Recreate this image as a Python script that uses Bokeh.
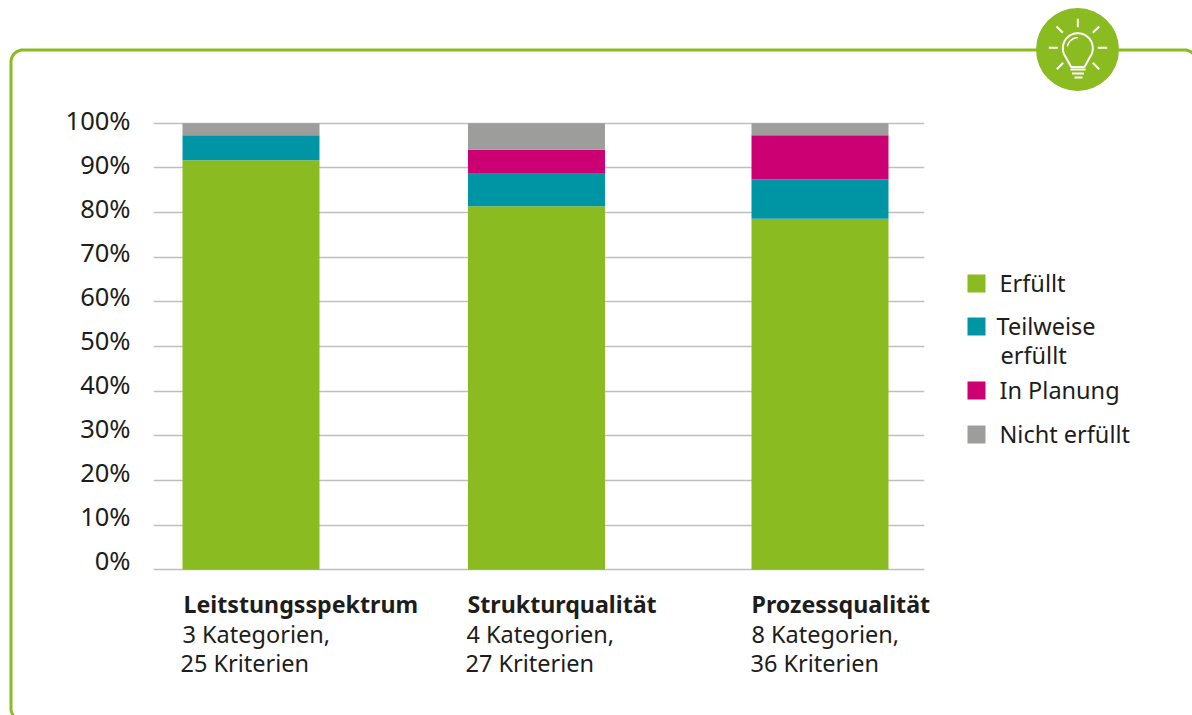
import numpy as np
from bokeh.core.properties import value
from bokeh.embed import file_html
from bokeh.resources import INLINE
from bokeh.plotting import figure
from bokeh.models import ColumnDataSource, Range1d, LinearAxis, Grid, FixedTicker, Pane

# ---------- data ----------
categories = ["Leitstungsspektrum", "Strukturqualität", "Prozessqualität"]
details_1 = ["3 Kategorien,", "4 Kategorien,", "8 Kategorien,"]
details_2 = ["25 Kriterien", "27 Kriterien", "36 Kriterien"]
series_names = ["Erfüllt", "Teilweise erfüllt", "In Planung", "Nicht erfüllt"]
erfuellt = [91.7, 81.4, 78.6]
teilweise = [5.6, 7.3, 8.8]
in_planung = [0.0, 5.4, 9.9]
nicht_erfuellt = [2.7, 5.9, 2.7]
tick_values = [0, 10, 20, 30, 40, 50, 60, 70, 80, 90, 100]
tick_labels = {v: f"{v}%" for v in tick_values}

GREEN, TEAL, PINK, GREY = "#8abb21", "#0095a5", "#cc0072", "#9d9d9c"
INK = "#1d1d1b"
FONT = "Noto Sans"
W, H = 1192, 715
FT, FB, FL, FR = 115, 575, 153, 924   # frame edges in page px

# ---------- backdrop figure: page pixels, carries frame, badge, captions, legend ----------
bg = figure(width=W, height=H, output_backend="svg", toolbar_location=None,
            x_axis_location=None, y_axis_location=None, min_border=0,
            x_range=Range1d(0, W), y_range=Range1d(H, 0))
bg.outline_line_color = None
bg.xgrid.visible = False
bg.ygrid.visible = False


def text(s, x, y, bold=False):
    bg.text(x=[x], y=[y], text=[s], text_font=value(FONT),
            text_font_size="23.2px" if bold else "23.5px", text_color=INK,
            text_font_style="bold" if bold else "normal",
            text_baseline="alphabetic", text_align="left")


for name, d1, d2, x0, x1, x2 in zip(categories, details_1, details_2,
                                    [183, 467, 751], [182, 466, 751], [180, 465, 750]):
    text(name, x0, 603.7, True)
    text(d1, x1, 633.7)
    text(d2, x2, 662)

for col, top in zip([GREEN, TEAL, PINK, GREY], [274, 317, 381, 425]):
    bg.quad(left=[967], right=[985], top=[top], bottom=[top + 18], fill_color=col, line_color=None)
text("Erfüllt", 999, 282.7)
text("Teilweise", 996, 325)
text("erfüllt", 1000, 354)
text("In Planung", 999, 389)
text("Nicht erfüllt", 999, 433.7)

# frame line with rounded corners, running off the page
r = 12
t = np.linspace(0, np.pi / 2, 14)
fx = list(22.5 - r * np.sin(t)) + list(22.5 - r * np.cos(t)) + list(1184 + r * np.sin(t))
fy = list(708 + r * np.cos(t)) + list(61.5 - r * np.sin(t)) + list(61.5 - r * np.cos(t))
bg.line(fx, fy, line_color=GREEN, line_width=3)

# lightbulb badge
bg.circle(x=[1077], y=[49], radius=41.5, fill_color=GREEN, line_color=None)
seg = [(1077.3, 18.3, 1077.3, 26.7), (1092.3, 32.3, 1098.7, 26), (1062.3, 32.3, 1056, 26),
       (1048.3, 47.3, 1057.3, 47.3), (1097.3, 47.3, 1106.7, 47.3),
       (1056.3, 68.7, 1062.7, 62.3), (1092.3, 62.3, 1098.7, 68.7),
       (1070, 69, 1085, 69), (1071.5, 73, 1083.5, 73), (1074, 77, 1082, 77)]
bg.multi_line([[s[0], s[2]] for s in seg], [[s[1], s[3]] for s in seg],
              line_color="white", line_width=2)
b = np.linspace(np.radians(145), np.radians(395), 40)
bg.line(list(1077.3 + 15 * np.cos(b)) + [1084, 1070.7, 1077.3 + 15 * np.cos(b[0])],
        list(47.7 + 15 * np.sin(b)) + [66.5, 66.5, 47.7 + 15 * np.sin(b[0])],
        line_color="white", line_width=2)
h = np.linspace(np.radians(190), np.radians(270), 12)
bg.line(1077.3 + 10.5 * np.cos(h), 47.7 + 10.5 * np.sin(h), line_color="white", line_width=1.5)

# ---------- chart figure, laid over the backdrop ----------
p = figure(width=W, height=H, output_backend="svg", toolbar_location=None,
           x_axis_location=None, y_axis_location=None,
           min_border_left=FL, min_border_right=W - FR,
           min_border_top=FT, min_border_bottom=H - FB,
           x_range=Range1d((FL - 250.5) / 284.5, (FR - 250.5) / 284.5),
           y_range=Range1d(-(FB - 569.3) / 4.465, 100 + (122.8 - FT) / 4.465))
p.styles = {"position": "absolute", "left": "0px", "top": "0px"}
bg.styles = {"position": "absolute", "left": "0px", "top": "0px"}
p.outline_line_color = None
p.background_fill_alpha = 0
p.border_fill_alpha = 0
p.xgrid.visible = False
p.ygrid.visible = False

p.extra_y_ranges["labels"] = Range1d(-(FB - 559.3) / 4.40, 100 + (119.3 - FT) / 4.40)
axis = LinearAxis(y_range_name="labels", ticker=FixedTicker(ticks=tick_values),
                  major_label_overrides=tick_labels,
                  axis_line_color=None, major_tick_line_color=None, minor_tick_line_color=None,
                  major_label_text_font=FONT, major_label_text_font_size="25.5px",
                  major_label_text_color=INK, major_label_standoff=17)
p.add_layout(axis, "left")
p.add_layout(Grid(dimension=1, ticker=FixedTicker(ticks=tick_values),
                  grid_line_color="#bfbfbf", grid_line_width=1.5, level="underlay"))

src = ColumnDataSource(dict(x=[0, 1.0035, 2], e=erfuellt, t=teilweise, i=in_planung, n=nicht_erfuellt))
p.vbar_stack(["e", "t", "i", "n"], x="x", width=0.4815, source=src,
             color=[GREEN, TEAL, PINK, GREY], line_width=0)

page = Pane(elements=[bg, p], styles={"position": "relative", "width": "1176px", "height": "699px"})
open("out.html", "w").write(file_html(page, INLINE))
